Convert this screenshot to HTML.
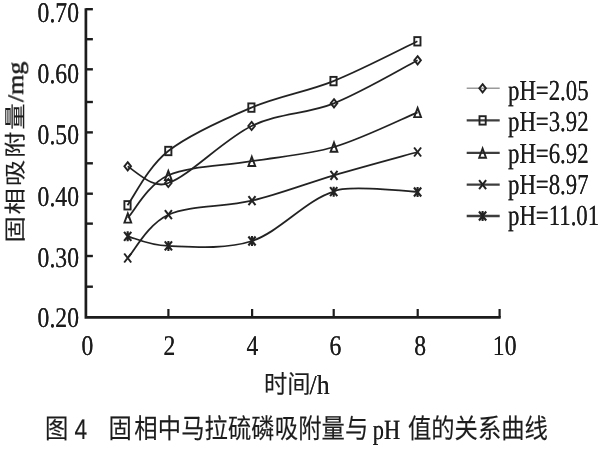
<!DOCTYPE html>
<html lang="zh-CN"><head><meta charset="utf-8"><title>图 4 固相中马拉硫磷吸附量与 pH 值的关系曲线</title>
<style>html,body{margin:0;padding:0;background:#fff}body{width:600px;height:450px;overflow:hidden}svg{display:block;text-rendering:geometricPrecision}.s{font-family:"Liberation Serif", serif;fill:#1c1c1c}.c{font-family:"Liberation Sans", "Noto Sans CJK SC", sans-serif;fill:#1c1c1c;stroke:#1c1c1c;stroke-width:0.15px}.y{stroke-width:0.1px}</style></head><body>
<svg width="600" height="450" viewBox="0 0 600 450">
<defs>
<filter id="soft" x="0" y="0" width="600" height="450" filterUnits="userSpaceOnUse"><feGaussianBlur stdDeviation="0.6"/></filter>
<filter id="soft2" x="0" y="0" width="600" height="450" filterUnits="userSpaceOnUse"><feGaussianBlur stdDeviation="0.7"/></filter>
<filter id="ink" x="0" y="0" width="600" height="450" filterUnits="userSpaceOnUse"><feOffset dx="0.3" result="a"/><feOffset in="SourceGraphic" dx="-0.3" result="b"/><feMerge><feMergeNode in="a"/><feMergeNode in="b"/></feMerge><feGaussianBlur stdDeviation="0.62"/></filter>
</defs>
<rect width="600" height="450" fill="#fff"/>
<g id="plot" filter="url(#soft)">
<g stroke="#1c1c1c" fill="none" stroke-linecap="butt">
<path stroke-width="2.7" d="M85.90 8.20 V317.40 H500.70"/>
<path stroke-width="2.4" d="M85.90 286.70 H92.9"/>
<path stroke-width="2.4" d="M85.90 256.00 H92.9"/>
<path stroke-width="2.4" d="M85.90 223.60 H92.9"/>
<path stroke-width="2.4" d="M85.90 193.70 H92.9"/>
<path stroke-width="2.4" d="M85.90 163.30 H92.9"/>
<path stroke-width="2.4" d="M85.90 132.40 H92.9"/>
<path stroke-width="2.4" d="M85.90 102.00 H92.9"/>
<path stroke-width="2.4" d="M85.90 69.30 H92.9"/>
<path stroke-width="2.4" d="M85.90 39.20 H92.9"/>
<path stroke-width="2.4" d="M85.90 9.20 H92.9"/>
<path stroke-width="2.2" d="M168.40 317.40 V309"/>
<path stroke-width="2.2" d="M252.10 317.40 V309"/>
<path stroke-width="2.2" d="M333.70 317.40 V309"/>
<path stroke-width="2.2" d="M417.70 317.40 V309"/>
<path stroke-width="2.2" d="M499.60 317.40 V309"/>
</g>
<path d="M127.70 166.30 C141.00 175.80 154.50 189.00 168.30 183.00 C188.95 176.28 223.98 139.28 251.60 126.00 C279.22 112.72 306.33 114.25 334.00 103.30 C361.67 92.35 403.67 67.47 417.60 60.30" fill="none" stroke="#242424" stroke-width="1.8"/>
<path d="M127.50 205.30 C134.30 196.25 147.65 167.28 168.30 151.00 C188.95 134.72 223.87 119.25 251.40 107.60 C278.93 95.95 305.83 92.15 333.50 81.10 C361.17 70.05 403.42 47.93 417.40 41.30" fill="none" stroke="#242424" stroke-width="1.8"/>
<path d="M127.80 217.80 C134.55 210.72 147.63 184.73 168.30 175.30 C188.97 165.87 224.18 165.92 251.80 161.20 C279.42 156.48 306.37 155.15 334.00 147.00 C361.63 138.85 403.67 118.08 417.60 112.30" fill="none" stroke="#242424" stroke-width="1.8"/>
<path d="M127.70 258.00 C134.48 250.78 147.68 224.27 168.40 214.70 C189.12 205.13 224.40 207.17 252.00 200.60 C279.60 194.03 306.40 183.40 334.00 175.30 C361.60 167.20 403.67 155.88 417.60 152.00" fill="none" stroke="#242424" stroke-width="1.8"/>
<path d="M127.70 236.30 C134.48 237.90 147.68 245.12 168.40 245.90 C189.12 246.68 224.45 250.03 252.00 241.00 C279.55 231.97 306.10 199.87 333.70 191.70 C342.50 185.60 392.00 189.60 417.60 192.00" fill="none" stroke="#242424" stroke-width="1.8"/>
<path d="M127.70 162.20 l3.3 4.1 l-3.3 4.1 l-3.3 -4.1 z" fill="none" stroke="#242424" stroke-width="1.9"/>
<path d="M168.30 178.90 l3.3 4.1 l-3.3 4.1 l-3.3 -4.1 z" fill="none" stroke="#242424" stroke-width="1.9"/>
<path d="M251.60 121.90 l3.3 4.1 l-3.3 4.1 l-3.3 -4.1 z" fill="none" stroke="#242424" stroke-width="1.9"/>
<path d="M334.00 99.20 l3.3 4.1 l-3.3 4.1 l-3.3 -4.1 z" fill="none" stroke="#242424" stroke-width="1.9"/>
<path d="M417.60 56.20 l3.3 4.1 l-3.3 4.1 l-3.3 -4.1 z" fill="none" stroke="#242424" stroke-width="1.9"/>
<rect x="124.40" y="201.10" width="6.2" height="8.4" fill="none" stroke="#242424" stroke-width="1.9"/>
<rect x="165.20" y="146.80" width="6.2" height="8.4" fill="none" stroke="#242424" stroke-width="1.9"/>
<rect x="248.30" y="103.40" width="6.2" height="8.4" fill="none" stroke="#242424" stroke-width="1.9"/>
<rect x="330.40" y="76.90" width="6.2" height="8.4" fill="none" stroke="#242424" stroke-width="1.9"/>
<rect x="414.30" y="37.10" width="6.2" height="8.4" fill="none" stroke="#242424" stroke-width="1.9"/>
<path d="M127.80 213.40 l3.4 9.2 h-6.8 z" fill="none" stroke="#242424" stroke-width="1.9"/>
<path d="M168.30 170.90 l3.4 9.2 h-6.8 z" fill="none" stroke="#242424" stroke-width="1.9"/>
<path d="M251.80 156.80 l3.4 9.2 h-6.8 z" fill="none" stroke="#242424" stroke-width="1.9"/>
<path d="M334.00 142.60 l3.4 9.2 h-6.8 z" fill="none" stroke="#242424" stroke-width="1.9"/>
<path d="M417.60 107.90 l3.4 9.2 h-6.8 z" fill="none" stroke="#242424" stroke-width="1.9"/>
<path d="M124.20 253.50 l7 9 M131.20 253.50 l-7 9" fill="none" stroke="#242424" stroke-width="2"/>
<path d="M164.90 210.20 l7 9 M171.90 210.20 l-7 9" fill="none" stroke="#242424" stroke-width="2"/>
<path d="M248.50 196.10 l7 9 M255.50 196.10 l-7 9" fill="none" stroke="#242424" stroke-width="2"/>
<path d="M330.50 170.80 l7 9 M337.50 170.80 l-7 9" fill="none" stroke="#242424" stroke-width="2"/>
<path d="M414.10 147.50 l7 9 M421.10 147.50 l-7 9" fill="none" stroke="#242424" stroke-width="2"/>
<path d="M124.10 231.80 l7.2 9 M131.30 231.80 l-7.2 9 M127.70 231.30 v10" fill="none" stroke="#242424" stroke-width="2.1"/>
<path d="M164.80 241.40 l7.2 9 M172.00 241.40 l-7.2 9 M168.40 240.90 v10" fill="none" stroke="#242424" stroke-width="2.1"/>
<path d="M248.40 236.50 l7.2 9 M255.60 236.50 l-7.2 9 M252.00 236.00 v10" fill="none" stroke="#242424" stroke-width="2.1"/>
<path d="M330.10 187.20 l7.2 9 M337.30 187.20 l-7.2 9 M333.70 186.70 v10" fill="none" stroke="#242424" stroke-width="2.1"/>
<path d="M414.00 187.50 l7.2 9 M421.20 187.50 l-7.2 9 M417.60 187.00 v10" fill="none" stroke="#242424" stroke-width="2.1"/>
<path d="M466.7 88.30 H499.7" stroke="#9a9a9a" stroke-width="1.6" fill="none"/>
<path d="M482.60 84.20 l3.3 4.1 l-3.3 4.1 l-3.3 -4.1 z" fill="none" stroke="#242424" stroke-width="1.9"/>
<path d="M466.7 120.40 H499.7" stroke="#3c3c3c" stroke-width="2.3" fill="none"/>
<rect x="479.50" y="116.20" width="6.2" height="8.4" fill="none" stroke="#242424" stroke-width="1.9"/>
<path d="M466.7 152.90 H499.7" stroke="#3c3c3c" stroke-width="2.3" fill="none"/>
<path d="M482.60 148.50 l3.4 9.2 h-6.8 z" fill="none" stroke="#242424" stroke-width="1.9"/>
<path d="M466.7 184.60 H499.7" stroke="#3c3c3c" stroke-width="2.3" fill="none"/>
<path d="M479.10 180.10 l7 9 M486.10 180.10 l-7 9" fill="none" stroke="#242424" stroke-width="2"/>
<path d="M466.7 216.00 H499.7" stroke="#3c3c3c" stroke-width="2.3" fill="none"/>
<path d="M479.00 211.50 l7.2 9 M486.20 211.50 l-7.2 9 M482.60 211.00 v10" fill="none" stroke="#242424" stroke-width="2.1"/>
</g>
<g id="cjk" filter="url(#soft2)">
<g transform="translate(22.5 242.6) rotate(-90)"><text class="c y" font-size="26.5" transform="scale(1 0.83)" letter-spacing="1.7">固相吸附量</text></g>
<text class="c" font-size="25.2" transform="translate(264.00 393.20) scale(0.925 1)">时间</text>
<text class="c" font-size="27" transform="translate(45.10 437.60) scale(0.863 1)">图</text>
<text class="c" font-size="28.5" transform="translate(74.60 438.60) scale(0.8 1)">4</text>
<text class="c" font-size="27" transform="translate(108.50 437.60) scale(0.863 1)" letter-spacing="0.12" dx="0 2.8">固相中马拉硫磷吸附量与</text>
<text class="c" font-size="27" transform="translate(408.00 437.60) scale(0.863 1)">值的关系曲线</text>
</g>
<g id="labels" filter="url(#ink)">
<text class="s" font-size="28.5" text-anchor="end" transform="translate(79.00 327.40) scale(0.83 1)">0.20</text>
<text class="s" font-size="28.5" text-anchor="end" transform="translate(79.00 266.50) scale(0.83 1)">0.30</text>
<text class="s" font-size="28.5" text-anchor="end" transform="translate(79.00 205.50) scale(0.83 1)">0.40</text>
<text class="s" font-size="28.5" text-anchor="end" transform="translate(79.00 144.30) scale(0.83 1)">0.50</text>
<text class="s" font-size="28.5" text-anchor="end" transform="translate(79.00 83.10) scale(0.83 1)">0.60</text>
<text class="s" font-size="28.5" text-anchor="end" transform="translate(79.00 21.90) scale(0.83 1)">0.70</text>
<text class="s" font-size="28.5" text-anchor="middle" transform="translate(87.30 355.40) scale(0.83 1)">0</text>
<text class="s" font-size="28.5" text-anchor="middle" transform="translate(169.30 355.40) scale(0.83 1)">2</text>
<text class="s" font-size="28.5" text-anchor="middle" transform="translate(252.40 355.40) scale(0.83 1)">4</text>
<text class="s" font-size="28.5" text-anchor="middle" transform="translate(335.40 355.40) scale(0.83 1)">6</text>
<text class="s" font-size="28.5" text-anchor="middle" transform="translate(420.10 355.40) scale(0.83 1)">8</text>
<text class="s" font-size="28.5" text-anchor="middle" transform="translate(504.70 355.40) scale(0.83 1)">10</text>
<text class="s" font-size="29" transform="translate(508.00 99.50) scale(0.786 1)">pH=2.05</text>
<text class="s" font-size="29" transform="translate(508.00 130.90) scale(0.786 1)">pH=3.92</text>
<text class="s" font-size="29" transform="translate(508.00 163.00) scale(0.786 1)">pH=6.92</text>
<text class="s" font-size="29" transform="translate(508.00 194.10) scale(0.786 1)">pH=8.97</text>
<text class="s" font-size="29" transform="translate(508.00 225.40) scale(0.786 1)">pH=11.01</text>
<g transform="translate(21.9 242.6) rotate(-90)"><text class="s" font-size="26" x="140.6" transform="translate(0 1.6) scale(1 0.88)">/mg</text></g>
<text class="s" font-size="27.4" transform="translate(309.60 393.60) scale(0.94 1)">/h</text>
<text class="s" font-size="28" transform="translate(372.80 438.60) scale(0.8 1)">pH</text>
</g>
</svg></body></html>
